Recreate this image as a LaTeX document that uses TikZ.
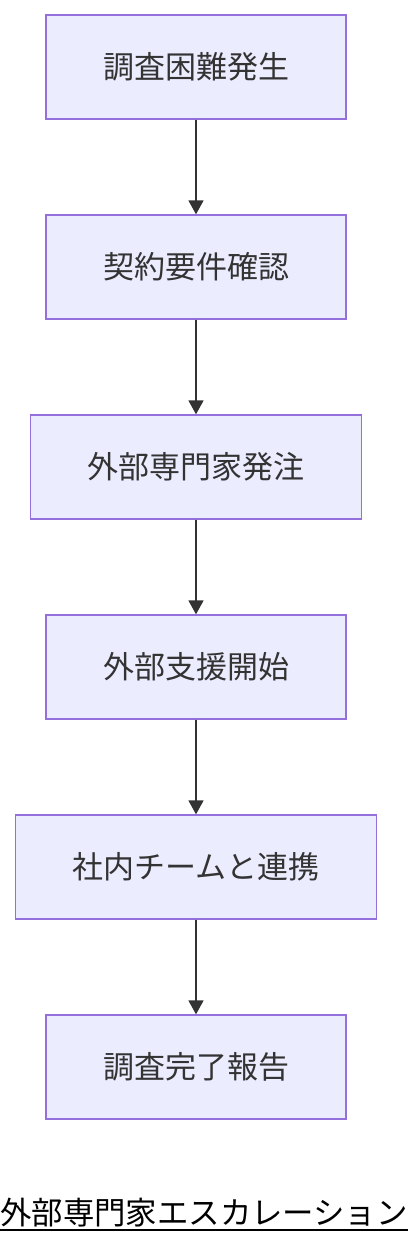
\documentclass[tikz,border=0pt]{standalone}
\usepackage{fontspec}
\setmainfont{Noto Sans CJK JP}
\usetikzlibrary{arrows.meta,chains,positioning}
\definecolor{boxfill}{HTML}{ECECFF}
\definecolor{boxline}{HTML}{9370DB}
\definecolor{inkgray}{HTML}{333333}

\begin{document}
\begin{tikzpicture}[x=1pt,y=1pt,
  arj/.style={line width=1.6pt,draw=inkgray,-{Triangle[length=14pt,width=15pt]}},
  stepbox/.style={draw=boxline,fill=boxfill,line width=1.3pt,text=inkgray,
    minimum height=104pt,inner xsep=57pt,font=\fontsize{31}{36}\selectfont}]
\useasboundingbox (0,0) rectangle (408,-1244);
\path[start chain=F going below,node distance=94.7pt,
      nodes={on chain,join=by arj,stepbox}]
    node at (196,-67) (hassei) {調査困難発生}
    node (kakunin) {契約要件確認}
    node (hacchu) {外部専門家発注}
    node (shien) {外部支援開始}
    node (renkei) {社内チームと連携}
    node (houkoku) {調査完了報告};
% title with underline
\node[inner sep=0pt,font=\fontsize{31.4}{36}\selectfont] (title) at (204,-1213) {外部専門家エスカレーション};
\draw[line width=2pt] ([yshift=-2pt]title.south west) -- ([yshift=-2pt]title.south east);
\end{tikzpicture}
\end{document}
